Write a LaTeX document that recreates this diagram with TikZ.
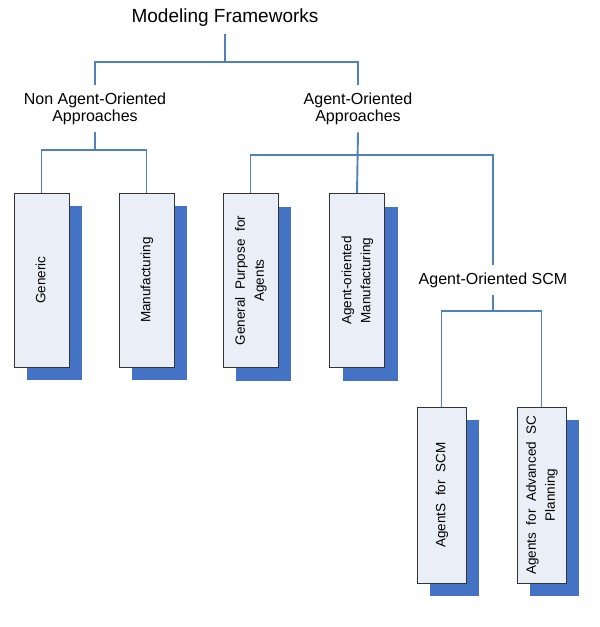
\documentclass[tikz,border=0pt]{standalone}
\usepackage{fontspec}
\setmainfont{Liberation Sans}
\usepackage{graphicx}
\usetikzlibrary{shadows}

\definecolor{linkblue}{HTML}{4F81BD}
\definecolor{shadeblue}{HTML}{4472C4}
\definecolor{cardfill}{HTML}{E9EEF7}

\newcommand{\vtext}[1]{\rotatebox{90}{\begin{tabular}{@{}c@{}}#1\end{tabular}}}

\begin{document}
\begin{tikzpicture}[x=1pt,y=-1pt,
  link/.style={draw=linkblue,line width=1.9pt},
  head/.style={font=\fontsize{16}{17}\selectfont,align=center,inner sep=0pt,outer sep=8pt},
  card/.style={draw=black!80,fill=cardfill,line width=0.9pt,minimum width=55pt,
    minimum height=174pt,inner sep=0pt,font=\fontsize{13.5}{19}\selectfont,
    drop shadow={shadow xshift=13pt,shadow yshift=-13pt,fill=shadeblue,opacity=1}}]
  \useasboundingbox (0,0) rectangle (600,627);

  \node [head,font=\fontsize{19}{22}\selectfont] (mf) at (225,17.5) {Modeling Frameworks};
  \node [head] (nao) at (95,108.5) {Non Agent-Oriented\\Approaches};
  \node [head] (ao) at (358,108.5) {Agent-Oriented\\Approaches};
  \node [head] (scm) at (493,280) {Agent-Oriented SCM};

  \node [card] (gen) at (41.5,280) {\vtext{Generic}};
  \node [card] (man) at (146.5,280) {\vtext{Manufacturing}};
  \node [card] (gpa) at (250.5,280.5) {\vtext{General~~Purpose~~for\\Agents}};
  \node [card] (aom) at (357,280.5) {\vtext{Agent-oriented\\Manufacturing}};
  \node [card,minimum width=49pt,minimum height=176pt] (afs) at (441.5,495) {\vtext{AgentS~~for~~SCM}};
  \node [card,minimum width=49pt,minimum height=176pt] (asp) at (541.5,495) {\vtext{Agents~~for~~Advanced~~SC\\Planning}};

  \coordinate (j0) at (225,62);
  \coordinate (j1) at (95,150);
  \coordinate (j2) at (358,155);
  \coordinate (j3) at (493,311);

  \draw [link] (mf.south) -- (j0);
  \draw [link] (nao.north) |- (j0) -| (ao.north);
  \draw [link] (nao.south) -- (j1);
  \draw [link] (gen.north) |- (j1) -| (man.north);
  \draw [link] (ao.south) -- (aom.north);
  \draw [link] (gpa.north) |- (j2) -| (scm.north);
  \draw [link] (scm.south) -- (j3);
  \draw [link] (afs.north) |- (j3) -| (asp.north);
\end{tikzpicture}
\end{document}
